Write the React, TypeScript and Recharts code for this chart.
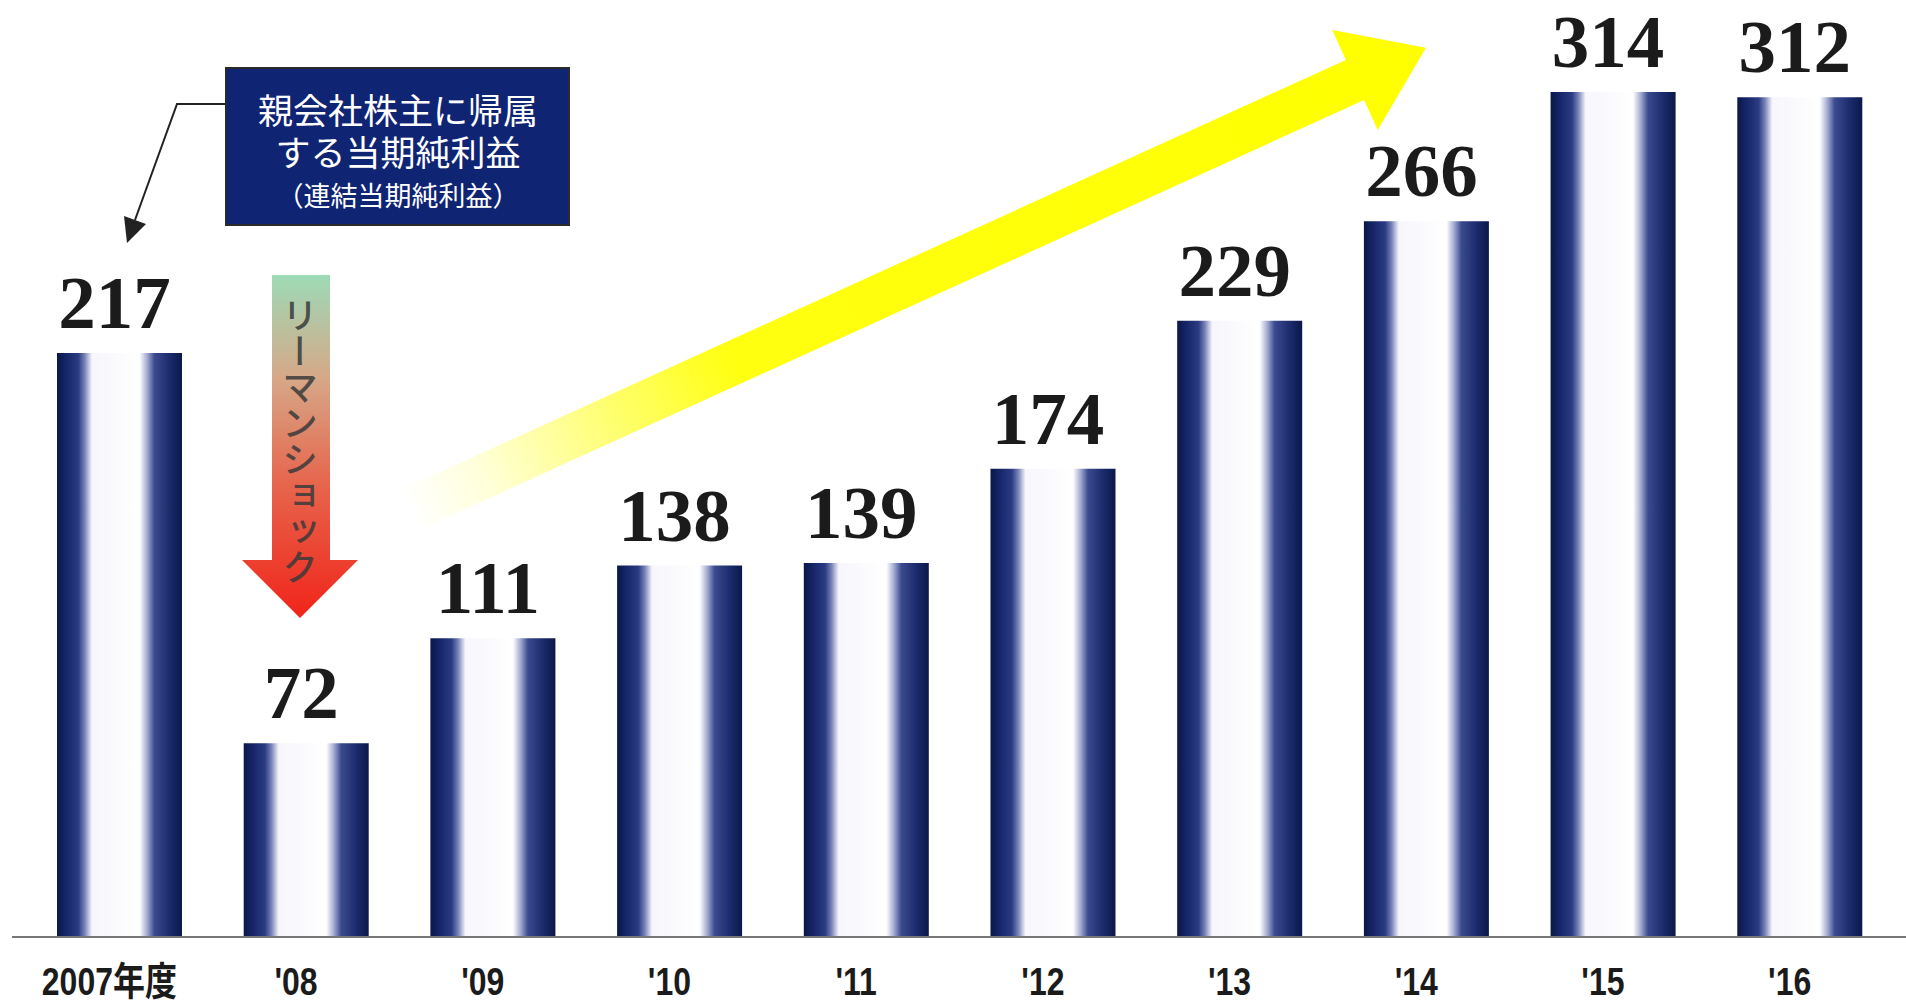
import { BarChart, Bar, XAxis, YAxis, LabelList } from 'recharts';

const years = ['2007年度', "'08", "'09", "'10", "'11", "'12", "'13", "'14", "'15", "'16"];
const profits = [217, 72, 111, 138, 139, 174, 229, 266, 314, 312];

const data = years.map((year, i) => ({ year, profit: profits[i] }));

const calloutLines = ['親会社株主に帰属', 'する当期純利益'];
const calloutSub = '（連結当期純利益）';
const shockText = 'リーマンショック';

const ValueLabel = (props: any) => {
  const { x, y, width, value } = props;
  return (
    <text
      x={x + width / 2 - 5}
      y={y - 25}
      textAnchor="middle"
      fontFamily="'Liberation Serif', 'Times New Roman', serif"
      fontWeight="bold"
      fontSize={75}
      fill="#1b1b1b"
    >
      {value}
    </text>
  );
};

const YearTick = (props: any) => {
  const { x, y, payload } = props;
  return (
    <g transform={`translate(${x - 10},${y + 50})`}>
      <text
        transform="scale(0.82,1)"
        textAnchor="middle"
        fontFamily="'Liberation Sans', 'Noto Sans CJK JP', sans-serif"
        fontWeight="bold"
        fontSize={39}
        fill="#1b1b1b"
      >
        {payload.value}
      </text>
    </g>
  );
};

// yellow arrow geometry (page coords)
const tail = { x: 410, y: 510 };
const base = { x: 1355, y: 80 };
const ux = 0.91;
const uy = -0.414;
const nx = 0.414;
const ny = 0.91;
const hw = 22;
const hh = 55;
const tip = { x: base.x + ux * 78, y: base.y + uy * 78 };
const yellowPts = [
  [tail.x + nx * hw, tail.y + ny * hw],
  [base.x + nx * hw, base.y + ny * hw],
  [base.x + nx * hh, base.y + ny * hh],
  [tip.x, tip.y],
  [base.x - nx * hh, base.y - ny * hh],
  [base.x - nx * hw, base.y - ny * hw],
  [tail.x - nx * hw, tail.y - ny * hw],
]
  .map((p) => p.join(','))
  .join(' ');

const App = () => {
  return (
    <div style={{ position: 'absolute', left: 0, top: 0, width: 1906, height: 1005, background: '#fff' }}>
      <BarChart
        width={1906}
        height={1005}
        data={data}
        margin={{ top: 22, right: 0, left: 12, bottom: 0 }}
      >
        <defs>
          <linearGradient id="cyl" x1="0" y1="0" x2="1" y2="0">
            <stop offset="0" stopColor="#0b1749" />
            <stop offset="0.08" stopColor="#17276a" />
            <stop offset="0.17" stopColor="#2b3b83" />
            <stop offset="0.22" stopColor="#7480b5" />
            <stop offset="0.28" stopColor="#f6f6fc" />
            <stop offset="0.66" stopColor="#ffffff" />
            <stop offset="0.72" stopColor="#a5acd2" />
            <stop offset="0.78" stopColor="#3a4a8e" />
            <stop offset="0.9" stopColor="#1b2b6c" />
            <stop offset="1" stopColor="#0c1848" />
          </linearGradient>
        </defs>
        <XAxis
          dataKey="year"
          height={68}
          padding={{ left: 14, right: 13 }}
          axisLine={{ stroke: '#777', strokeWidth: 2 }}
          tickLine={false}
          tick={<YearTick />}
          interval={0}
        />
        <YAxis hide domain={[0, 340]} />
        <Bar dataKey="profit" fill="url(#cyl)" barSize={125} isAnimationActive={false}>
          <LabelList dataKey="profit" content={<ValueLabel />} />
        </Bar>
      </BarChart>

      <svg
        width={1906}
        height={1005}
        style={{ position: 'absolute', left: 0, top: 0, pointerEvents: 'none' }}
      >
        <defs>
          <linearGradient id="yellowFade" gradientUnits="userSpaceOnUse" x1={tail.x} y1={tail.y} x2={tip.x} y2={tip.y}>
            <stop offset="0" stopColor="#ffff10" stopOpacity="0" />
            <stop offset="0.07" stopColor="#ffff10" stopOpacity="0.15" />
            <stop offset="0.2" stopColor="#ffff10" stopOpacity="0.6" />
            <stop offset="0.32" stopColor="#ffff10" stopOpacity="1" />
            <stop offset="1" stopColor="#ffff00" stopOpacity="1" />
          </linearGradient>
          <linearGradient id="redFade" x1="0" y1="0" x2="0" y2="1">
            <stop offset="0" stopColor="#9ddab6" />
            <stop offset="0.3" stopColor="#d6a888" />
            <stop offset="0.6" stopColor="#e6674e" />
            <stop offset="1" stopColor="#f1241a" />
          </linearGradient>
        </defs>

        {/* growth arrow */}
        <polygon points={yellowPts} fill="url(#yellowFade)" />

        {/* Lehman shock arrow */}
        <polygon
          points="272,275 330,275 330,560 358,560 300,618 242,560 272,560"
          fill="url(#redFade)"
        />
        <text
          x={300}
          y={297}
          style={{ writingMode: 'vertical-rl' }}
          fontFamily="'Noto Sans CJK JP', sans-serif"
          fontWeight={500}
          fontSize={36}
          fill="#3a3a3a"
          fillOpacity={0.85}
        >
          {shockText}
        </text>

        {/* callout */}
        <polyline points="227,104 177,104 135,220" fill="none" stroke="#222" strokeWidth={2} />
        <polygon points="127,243 146,224 124,216" fill="#222" />
        <rect x={226} y={68} width={343} height={157} fill="#0f2473" stroke="#2a2a2a" strokeWidth={2} />
        <text
          textAnchor="middle"
          fontFamily="'Noto Sans CJK JP', sans-serif"
          fontSize={35}
          fill="#fff"
        >
          {calloutLines.map((line, i) => (
            <tspan key={line} x={398} y={124 + i * 42}>
              {line}
            </tspan>
          ))}
          <tspan x={398} y={206} fontSize={27}>
            {calloutSub}
          </tspan>
        </text>
      </svg>
    </div>
  );
};

export default App;
